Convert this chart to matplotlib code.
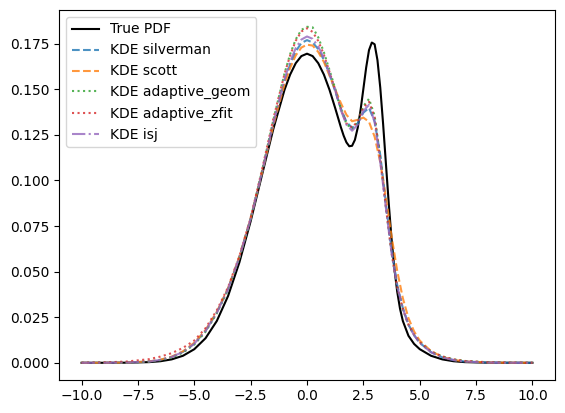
import matplotlib
matplotlib.use("Agg")
import matplotlib.pyplot as plt

x_true = [-10, -9, -8, -7, -6.5, -6, -5.5, -5, -4.5, -4, -3.5, -3, -2.5, -2, -1.5, -1,
          -0.75, -0.5, -0.25, 0, 0.25, 0.5, 0.75, 1, 1.25, 1.5, 1.625, 1.75, 1.875, 2,
          2.125, 2.25, 2.375, 2.5, 2.625, 2.75, 2.875, 3, 3.125, 3.25, 3.375, 3.5,
          3.625, 3.75, 3.875, 4, 4.125, 4.25, 4.5, 4.75, 5, 5.5, 6, 6.5, 7, 8, 9, 10]
true_pdf = [0.0, 0.00001, 0.00006, 0.00037, 0.00086, 0.00188, 0.00386, 0.00745, 0.01349,
            0.02295, 0.03667, 0.05504, 0.07762, 0.10284, 0.12798, 0.14963,
            0.15804, 0.16433, 0.16823, 0.16955, 0.16823, 0.16433, 0.15806, 0.14967,
            0.13973, 0.12931, 0.12461, 0.12088, 0.11878, 0.11904,
            0.12229, 0.12890, 0.13856, 0.15021, 0.16200, 0.17150, 0.17566, 0.17472,
            0.16602, 0.15090, 0.13116, 0.10926, 0.08759, 0.06808, 0.05183, 0.03915,
            0.02973, 0.02299, 0.01482, 0.01036, 0.00749, 0.00386, 0.00188, 0.00086,
            0.00037, 0.00006, 0.00001, 0.0]

x_kde = [-10, -9, -8, -7, -6.5, -6, -5.5, -5, -4.5, -4, -3.5, -3, -2.5, -2, -1.5, -1,
         -0.75, -0.5, -0.25, 0, 0.25, 0.5, 0.75, 1, 1.25, 1.5, 1.75, 2, 2.25, 2.5,
         2.75, 3, 3.25, 3.5, 3.75, 4, 4.25, 4.5, 4.75, 5, 5.5, 6, 6.5, 7, 8, 9, 10]

kde_silverman = [0.0, 0.00002, 0.0001, 0.0007, 0.0016, 0.0032, 0.0060, 0.0105, 0.0175, 0.0275,
                 0.0405, 0.0578, 0.0790, 0.1040, 0.1304, 0.1541,
                 0.1636, 0.1708, 0.1754, 0.1770, 0.1757, 0.1720, 0.1661, 0.1581,
                 0.1490, 0.1396, 0.1321, 0.1289, 0.1314, 0.1372, 0.1398, 0.1325,
                 0.1140, 0.0875, 0.0620, 0.0428, 0.0300, 0.0210, 0.0152, 0.0110,
                 0.0058, 0.0030, 0.0015, 0.0007, 0.00013, 0.00002, 0.0]
kde_scott = [0.0, 0.00002, 0.00012, 0.0008, 0.0017, 0.0034, 0.0063, 0.0110, 0.0180, 0.0280,
             0.0410, 0.0582, 0.0793, 0.1042, 0.1299, 0.1526,
             0.1617, 0.1686, 0.1729, 0.1745, 0.1740, 0.1705, 0.1650, 0.1575,
             0.1500, 0.1425, 0.1360, 0.1325, 0.1333, 0.1345, 0.1322, 0.1240,
             0.1100, 0.0905, 0.0695, 0.0505, 0.0355, 0.0245, 0.0172, 0.0122,
             0.0064, 0.0033, 0.0016, 0.0008, 0.00015, 0.00002, 0.0]
kde_adaptive_geom = [0.0, 0.00001, 0.0001, 0.0006, 0.0014, 0.0029, 0.0056, 0.0100, 0.0170, 0.0272,
                     0.0402, 0.0576, 0.0790, 0.1050, 0.1328, 0.1586,
                     0.1692, 0.1774, 0.1826, 0.1843, 0.1840, 0.1785, 0.1703, 0.1605,
                     0.1505, 0.1393, 0.1310, 0.1282, 0.1322, 0.1407, 0.1448, 0.1355,
                     0.1125, 0.0855, 0.0605, 0.0418, 0.0295, 0.0208, 0.0153, 0.0112,
                     0.0062, 0.0035, 0.0019, 0.0010, 0.0003, 0.00005, 0.0]
kde_adaptive_zfit = [0.0, 0.0002, 0.0007, 0.0020, 0.0034, 0.0053, 0.0082, 0.0122, 0.0190, 0.0288,
                     0.0415, 0.0585, 0.0795, 0.1057, 0.1335, 0.1583,
                     0.1685, 0.1766, 0.1817, 0.1835, 0.1815, 0.1765, 0.1690, 0.1595,
                     0.1498, 0.1392, 0.1313, 0.1290, 0.1325, 0.1400, 0.1432, 0.1345,
                     0.1118, 0.0852, 0.0603, 0.0417, 0.0296, 0.0210, 0.0154, 0.0113,
                     0.0062, 0.0035, 0.0019, 0.0010, 0.0003, 0.00005, 0.0]
kde_isj = [0.0, 0.00002, 0.0001, 0.0007, 0.0016, 0.0032, 0.0060, 0.0105, 0.0175, 0.0275,
           0.0405, 0.0578, 0.0790, 0.1043, 0.1311, 0.1553,
           0.1651, 0.1726, 0.1773, 0.1790, 0.1777, 0.1734, 0.1672, 0.1585,
           0.1497, 0.1387, 0.1306, 0.1273, 0.1306, 0.1381, 0.1415, 0.1320,
           0.1100, 0.0850, 0.0603, 0.0420, 0.0297, 0.0209, 0.0151, 0.0109,
           0.0058, 0.0030, 0.0015, 0.0007, 0.00013, 0.00002, 0.0]

labels = ["True PDF", "KDE silverman", "KDE scott", "KDE adaptive_geom",
          "KDE adaptive_zfit", "KDE isj"]

fig = plt.figure(figsize=(5.65, 4.13), dpi=100)
ax = fig.add_axes([59 / 565, (413 - 379.6) / 413, 496 / 565, 369.6 / 413])

ax.plot(x_true, true_pdf, color="black", linestyle="-", label=labels[0])
ax.plot(x_kde, kde_silverman, color="C0", linestyle="--", alpha=0.8, label=labels[1])
ax.plot(x_kde, kde_scott, color="C1", linestyle="--", alpha=0.8, label=labels[2])
ax.plot(x_kde, kde_adaptive_geom, color="C2", linestyle=":", alpha=0.8, label=labels[3])
ax.plot(x_kde, kde_adaptive_zfit, color="C3", linestyle=":", alpha=0.8, label=labels[4])
ax.plot(x_kde, kde_isj, color="C4", linestyle="-.", alpha=0.8, label=labels[5])

ax.legend(loc="upper left")
fig.savefig("out.png", dpi=100)
